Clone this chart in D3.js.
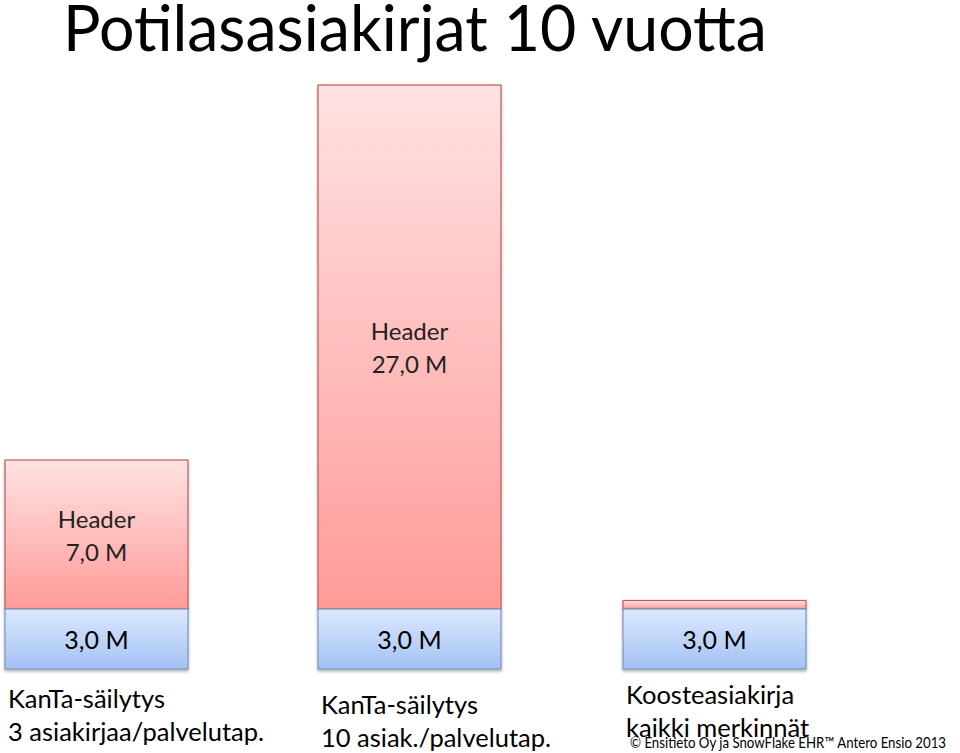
<!DOCTYPE html>
<html>
<head>
<meta charset="utf-8">
<script src="https://cdn.jsdelivr.net/npm/d3@7"></script>
<style>
  body { margin: 0; background: #fff; }
  text { font-family: Lato, "Open Sans", sans-serif; fill: #000; }
</style>
</head>
<body>
<div class="chart"></div>
<script>
// data
const categories = ["kanta3", "kanta10", "kooste"];
const baseValues = [3.0, 3.0, 3.0];          // blue segment (M)
const headerValues = [7.0, 27.0, 0.4];        // red segment (M)
const baseLabels = ["3,0 M", "3,0 M", "3,0 M"];
const headerLabels = [["Header", "7,0 M"], ["Header", "27,0 M"], []];
const categoryLabels = [
  ["KanTa-säilytys", "3 asiakirjaa/palvelutap."],
  ["KanTa-säilytys", "10 asiak./palvelutap."],
  ["Koosteasiakirja", "kaikki merkinnät"]
];

const W = 960, H = 753;
const labelOffsets = [0, 6, -4];   // vertical nudge of category labels
const xNudge = [0, 4, 0];          // bars on the slide are not evenly spaced

const svg = d3.select(".chart")
  .append("svg")
  .attr("width", W)
  .attr("height", H);

const defs = svg.append("defs");

const redGrad = defs.append("linearGradient")
  .attr("id", "redGrad").attr("x1", 0).attr("y1", 0).attr("x2", 0).attr("y2", 1);
redGrad.append("stop").attr("offset", "0%").attr("stop-color", "#ffe2e2");
redGrad.append("stop").attr("offset", "100%").attr("stop-color", "#ff9b99");

const blueGrad = defs.append("linearGradient")
  .attr("id", "blueGrad").attr("x1", 0).attr("y1", 0).attr("x2", 0).attr("y2", 1);
blueGrad.append("stop").attr("offset", "0%").attr("stop-color", "#dce9fd");
blueGrad.append("stop").attr("offset", "100%").attr("stop-color", "#a3c1f5");

const shadow = defs.append("filter").attr("id", "shadow")
  .attr("x", "-10%").attr("y", "-10%").attr("width", "120%").attr("height", "130%");
shadow.append("feDropShadow")
  .attr("dx", 0).attr("dy", 2).attr("stdDeviation", 1.5)
  .attr("flood-color", "#000").attr("flood-opacity", 0.3);

// title
svg.append("text")
  .attr("x", 63)
  .attr("y", 51)
  .attr("textLength", 704)
  .attr("lengthAdjust", "spacingAndGlyphs")
  .style("font-size", "64px")
  .text("Potilasasiakirjat 10 vuotta");

// scales (hand-drawn slide: bar heights are not strictly proportional)
const x = d3.scaleBand()
  .domain(categories)
  .range([5, 806])
  .paddingInner(126 / 309)
  .paddingOuter(0);

const y = d3.scaleLinear()
  .domain([0, 3, 10, 30])
  .range([669, 609, 460, 85]);

const barW = x.bandwidth();

const rows = categories.map((c, i) => ({
  c, i,
  base: baseValues[i],
  header: headerValues[i]
}));

const g = svg.selectAll("g.bar")
  .data(rows)
  .join("g")
  .attr("class", "bar")
  .attr("transform", d => `translate(${x(d.c) + xNudge[d.i]}, 0)`);

// header segment
g.append("rect")
  .attr("x", 0)
  .attr("y", d => y(d.base + d.header))
  .attr("width", barW)
  .attr("height", d => y(d.base) - y(d.base + d.header))
  .attr("fill", "url(#redGrad)")
  .attr("stroke", "#be5b59")
  .attr("stroke-width", 1.2)
  .attr("filter", "url(#shadow)");

// base segment
g.append("rect")
  .attr("x", 0)
  .attr("y", d => y(d.base))
  .attr("width", barW)
  .attr("height", d => y(0) - y(d.base))
  .attr("fill", "url(#blueGrad)")
  .attr("stroke", "#7a95c2")
  .attr("stroke-width", 1.2)
  .attr("filter", "url(#shadow)");

// base labels
g.append("text")
  .attr("x", barW / 2)
  .attr("y", d => (y(0) + y(d.base)) / 2)
  .attr("text-anchor", "middle")
  .attr("dominant-baseline", "central")
  .style("font-size", "25px")
  .text(d => baseLabels[d.i]);

// header labels
g.each(function(d) {
  const lines = headerLabels[d.i];
  if (!lines.length) return;
  const mid = (y(d.base) + y(d.base + d.header)) / 2;
  d3.select(this).selectAll("text.hdr")
    .data(lines)
    .join("text")
    .attr("class", "hdr")
    .attr("x", barW / 2)
    .attr("y", (t, k) => mid + (k - (lines.length - 1) / 2) * 33)
    .attr("text-anchor", "middle")
    .attr("dominant-baseline", "central")
    .style("font-size", "24px")
    .style("fill", "#222")
    .text(t => t);
});

// category labels
g.each(function(d) {
  d3.select(this).selectAll("text.cat")
    .data(categoryLabels[d.i])
    .join("text")
    .attr("class", "cat")
    .attr("x", 3)
    .attr("y", (t, k) => 698 + labelOffsets[d.i] + k * 33)
    .attr("dominant-baseline", "central")
    .style("font-size", "25.5px")
    .text(t => t);
});

// copyright
svg.append("text")
  .attr("x", 630)
  .attr("y", 748)
  .attr("textLength", 316)
  .attr("lengthAdjust", "spacingAndGlyphs")
  .style("font-size", "15px")
  .text("© Ensitieto Oy ja SnowFlake EHR™ Antero Ensio 2013");
</script>
</body>
</html>
